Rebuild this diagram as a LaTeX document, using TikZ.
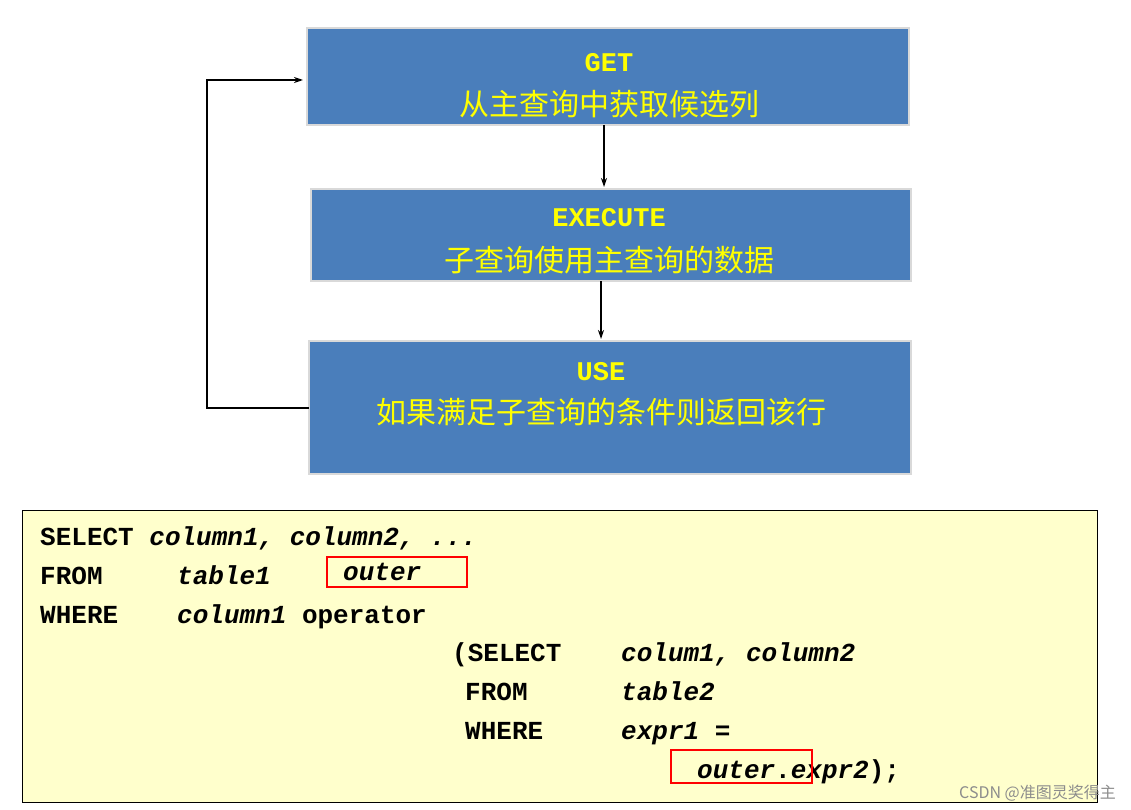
\documentclass[tikz,border=0pt]{standalone}
\usepackage{fontspec}
\setmonofont{Liberation Mono}
\newfontfamily\cjk{Noto Sans CJK SC}
\usetikzlibrary{arrows.meta}
\definecolor{boxblue}{HTML}{4A7EBB}
\definecolor{codebg}{HTML}{FFFFCC}
\definecolor{ttl}{HTML}{FFFF00}
\tikzset{
  stage/.style={draw=black!15,line width=1.5pt,fill=boxblue},
  ttlnode/.style={text=ttl,font=\ttfamily\bfseries\fontsize{27}{30}\selectfont,anchor=center,inner sep=0},
  cjknode/.style={text=ttl,font=\cjk\fontsize{30}{34}\selectfont,anchor=center,inner sep=0},
  flow/.style={-{Stealth[length=9pt,width=6pt]},line width=1.3pt},
  code/.style={font=\ttfamily\bfseries\fontsize{26}{30}\selectfont,anchor=base west,inner sep=0},
  redbox/.style={draw=red,line width=1.5pt}
}
\begin{document}
\begin{tikzpicture}[x=1pt,y=-1pt]
\useasboundingbox (0,0) rectangle (1131,810);
\fill[white] (0,0) rectangle (1131,810);
% stages
\path[stage] (307,28) rectangle (909,125);
\path[stage] (311,189) rectangle (911,281);
\path[stage] (309,341) rectangle (911,474);
\node[ttlnode] (g1) at (609,63) {GET};
\node[cjknode] (g2) at (609,104) {从主查询中获取候选列};
\node[ttlnode] (e1) at (609,218) {EXECUTE};
\node[cjknode] (e2) at (609,260) {子查询使用主查询的数据};
\node[ttlnode] (u1) at (601,372) {USE};
\node[cjknode] (u2) at (601,412) {如果满足子查询的条件则返回该行};
\coordinate (gb) at (604,125); \coordinate (et) at (604,187);
\coordinate (eb) at (601,281); \coordinate (ut) at (601,339);
\coordinate (ul) at (309,408); \coordinate (gl) at (303,80);
\draw[flow] (gb) -- (et);
\draw[flow] (eb) -- (ut);
\draw[flow] (ul) -- (207,408) -- (207,80) -- (gl);
% code box
\draw[fill=codebg,line width=1pt] (22,510) rectangle (1097,802);
\node[code] (c1) at (40,545) {SELECT \textit{column1, column2, ...}};
\node[code] (c2) at (40,584) {FROM};
\node[code] (c2b) at (177,584) {\textit{table1}};
\node[code] (c2c) at (343,580) {\textit{outer}};
\node[code] (c3) at (40,623) {WHERE};
\node[code] (c3b) at (177,623) {\textit{column1} operator};
\node[code] (c4) at (452,661) {(SELECT};
\node[code] (c4b) at (621,661) {\textit{colum1, column2}};
\node[code] (c5) at (465,700) {FROM};
\node[code] (c5b) at (621,700) {\textit{table2}};
\node[code] (c6) at (465,739) {WHERE};
\node[code] (c6b) at (621,739) {\textit{expr1} =};
\node[code] (c7) at (697,778) {\textit{outer}.\textit{expr2});};
\draw[redbox] (327,557) rectangle (467,587);
\draw[redbox] (671,750) rectangle (812,783);
\node[font=\cjk\fontsize{16}{18}\selectfont,text=black!45,anchor=base east,inner sep=0] (wm) at (1116,798) {CSDN @准图灵奖得主};
\end{tikzpicture}
\end{document}
